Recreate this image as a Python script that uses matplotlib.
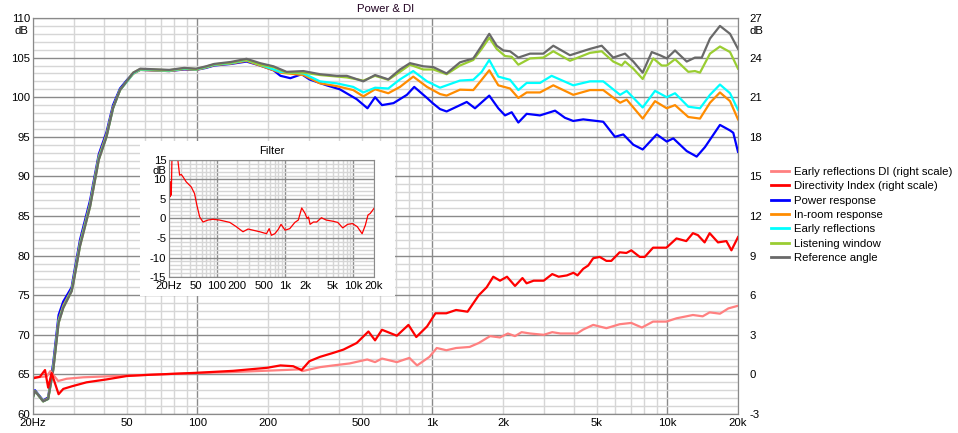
import matplotlib
matplotlib.use("Agg")
import matplotlib.pyplot as plt
from matplotlib.ticker import FixedLocator, NullFormatter
from matplotlib.lines import Line2D

plt.rcParams['font.family'] = ['Liberation Sans', 'DejaVu Sans']
plt.rcParams['axes.unicode_minus'] = False
FS = 8.2

# ---- Daten ----
ref_f = [20, 20.4, 22.1, 23.2, 24.4, 25.7, 26.9, 29.2, 29.7, 31.7, 35, 38.1, 41.1, 43.8, 46.9, 50.3,
         53.4, 57.2, 62.7, 76, 88, 99, 109, 118, 139, 162, 185, 211, 240, 283, 333, 392, 433, 509,
         571, 650, 729, 804, 916, 1010, 1151, 1312, 1495, 1623, 1748, 1880, 2006, 2142, 2324, 2606,
         2969, 3274, 3855, 4690, 5260, 5890, 6610, 7170, 7860, 8590, 9310, 9950, 10790, 12100,
         13120, 14020, 15200, 16760, 18500, 20000]
ref_db = [62.1, 62.9, 61.6, 61.9, 65.6, 71.5, 73.4, 75.5, 76.5, 81.2, 86.2, 92.1, 95.0, 98.6, 100.9, 102.1,
          103.1, 103.6, 103.55, 103.45, 103.7, 103.6, 103.9, 104.2, 104.45, 104.85, 104.3, 103.9, 103.2, 103.3,
          102.9, 102.7, 102.7, 102.0, 102.8, 102.25, 103.5, 104.3, 103.9, 103.8, 103.0, 104.4, 104.9, 106.5,
          108.0, 106.5, 105.9, 105.8, 105.0, 105.5, 105.5, 106.5, 105.3, 106.1, 106.5, 105.0, 105.5, 104.5,
          103.1, 105.7, 105.3, 104.9, 105.9, 104.5, 105.0, 105.0, 107.4, 109.0, 108.0, 106.1]

lw_f = [20, 20.4, 22.1, 23.2, 24.4, 25.7, 26.9, 29.2, 29.7, 31.7, 35, 38.1, 41.1, 43.8, 46.9, 50.3,
        53.4, 57.2, 62.7, 76, 88, 99, 109, 118, 139, 162, 185, 211, 240, 283, 333, 433, 509, 571, 650,
        729, 804, 916, 1010, 1151, 1312, 1495, 1623, 1748, 1880, 2040, 2178, 2324, 2606, 2969, 3274,
        3855, 4690, 5260, 5890, 6400, 6610, 7170, 7860, 8720, 9470, 9950, 10790, 12290, 13120, 13780,
        15200, 16760, 18500, 20000]
lw_db = [62.1, 62.9, 61.6, 61.9, 65.6, 71.5, 73.4, 75.5, 76.5, 81.2, 86.2, 92.1, 95.0, 98.6, 100.9, 102.1,
         103.1, 103.55, 103.5, 103.4, 103.65, 103.55, 103.85, 104.15, 104.35, 104.75, 104.1, 103.8, 103.1,
         103.1, 102.8, 102.5, 102.1, 102.7, 102.2, 103.2, 104.1, 103.5, 103.5, 102.9, 104.0, 104.7, 106.1,
         107.5, 106.1, 105.2, 105.1, 104.1, 104.9, 105.0, 105.8, 104.6, 105.6, 105.8, 104.5, 104.0, 104.5,
         103.6, 102.3, 104.9, 104.0, 104.0, 104.8, 103.2, 103.3, 103.1, 105.5, 106.4, 105.7, 103.6]

er_f = [20, 20.4, 22.1, 23.2, 24.4, 25.7, 26.9, 29.2, 29.7, 31.7, 35, 38.1, 41.1, 43.8, 46.9, 50.3,
        53.4, 57.2, 62.7, 76, 88, 99, 109, 118, 139, 162, 185, 226, 283, 333, 392, 461, 509, 571, 650,
        729, 830, 950, 1079, 1312, 1495, 1623, 1748, 1910, 2142, 2324, 2522, 2874, 3220, 3980, 4690,
        5340, 6300, 6720, 7860, 8870, 9950, 10790, 12290, 13780, 15200, 16760, 18500, 20000]
er_db = [62.1, 62.9, 61.6, 61.9, 65.8, 71.7, 73.5, 75.6, 76.7, 81.4, 86.4, 92.3, 95.1, 98.6, 100.9, 102.0,
         103.0, 103.5, 103.45, 103.35, 103.6, 103.5, 103.8, 104.1, 104.3, 104.7, 104.1, 103.2, 103.0, 102.0,
         101.75, 101.3, 100.6, 101.2, 101.1, 102.25, 103.3, 102.0, 101.2, 102.1, 102.2, 103.2, 104.7, 102.6,
         102.2, 100.9, 101.8, 101.8, 102.7, 101.5, 102.0, 102.0, 100.3, 100.8, 98.7, 100.8, 100.0, 100.5,
         98.8, 98.6, 100.3, 101.6, 100.5, 98.4]

ir_f = [20, 20.4, 22.1, 23.2, 24.4, 25.7, 26.9, 29.2, 29.7, 31.7, 35, 38.1, 41.1, 43.8, 46.9, 50.3,
        53.4, 57.2, 62.7, 76, 88, 99, 109, 118, 139, 162, 185, 226, 283, 333, 392, 461, 509, 571, 650,
        729, 830, 950, 1079, 1151, 1312, 1495, 1623, 1748, 1910, 2142, 2324, 2522, 2874, 3274, 3980,
        4690, 5340, 6300, 6720, 7860, 8870, 9950, 10790, 12290, 13780, 15200, 16760, 18500, 20000]
ir_db = [62.2, 62.9, 61.6, 62.0, 66.0, 71.9, 73.7, 75.7, 76.9, 81.6, 86.6, 92.5, 95.3, 98.7, 100.9, 102.0,
         102.95, 103.45, 103.4, 103.3, 103.55, 103.45, 103.75, 104.05, 104.25, 104.6, 104.0, 103.1, 102.8,
         101.75, 101.4, 100.9, 100.1, 101.0, 100.5, 101.3, 102.6, 101.3, 100.4, 100.2, 100.95, 100.9, 102.2,
         103.4, 101.5, 101.1, 99.9, 100.6, 100.6, 101.5, 100.3, 100.9, 100.9, 99.3, 99.7, 97.3, 99.5, 98.6,
         99.0, 97.5, 97.3, 99.3, 100.6, 99.5, 97.2]

pr_f = [20, 20.4, 22.1, 23.2, 24.4, 25.7, 26.9, 29.2, 29.7, 31.7, 35, 38.1, 41.1, 43.8, 46.9, 50.3,
        53.4, 57.2, 62.7, 76, 88, 99, 109, 118, 139, 162, 185, 211, 226, 249, 278, 300, 355, 404, 477,
        530, 571, 611, 684, 780, 838, 950, 1004, 1079, 1151, 1271, 1402, 1520, 1748, 1910, 2040, 2178,
        2324, 2522, 2874, 3330, 3670, 3980, 4390, 5340, 5990, 6500, 7170, 7860, 9020, 9950, 10610,
        12100, 13340, 14470, 16760, 18500, 19100, 20000]
pr_db = [62.3, 63.0, 61.7, 62.1, 66.5, 72.5, 74.2, 76.0, 77.3, 82.0, 87.0, 92.8, 95.6, 99.0, 101.1, 102.2,
         103.0, 103.45, 103.4, 103.3, 103.5, 103.45, 103.7, 104.0, 104.2, 104.5, 104.0, 103.4, 102.7, 102.4,
         102.9, 102.25, 101.5, 101.0, 99.75, 98.6, 100.0, 99.0, 99.25, 100.3, 101.3, 99.9, 99.25, 98.5, 98.2,
         98.8, 99.4, 98.6, 100.2, 98.6, 97.7, 98.1, 96.8, 97.9, 97.7, 98.3, 97.4, 97.0, 97.2, 96.9, 95.0,
         95.3, 94.0, 93.4, 95.3, 94.4, 94.8, 93.2, 92.5, 93.7, 96.5, 95.8, 95.5, 93.1]

di_f = [20, 21.4, 22.5, 23.2, 24.0, 25.7, 26.9, 29.3, 33.8, 41.1, 50.3, 62.8, 99, 142, 198, 226, 256,
        278, 300, 333, 379, 419, 477, 535, 571, 611, 707, 792, 855, 950, 1032, 1148, 1263, 1413, 1578,
        1704, 1818, 1942, 2080, 2250, 2420, 2520, 2700, 2980, 3240, 3450, 3740, 3990, 4150, 4390, 4610,
        4840, 5160, 5510, 5780, 6270, 6700, 7030, 7640, 8020, 8700, 9920, 10950, 12050, 12860, 13500,
        14420, 15150, 16440, 17850, 18750, 19370, 20000]
di_db = [-0.3, -0.18, 0.33, -1.0, 0.1, -1.5, -1.1, -0.9, -0.6, -0.38, -0.12, -0.03, 0.12, 0.27, 0.5, 0.68,
         0.62, 0.33, 1.0, 1.33, 1.63, 1.88, 2.38, 3.25, 2.58, 3.38, 2.93, 3.75, 2.83, 3.63, 4.63, 4.63, 4.88,
         4.75, 6.0, 6.6, 7.4, 7.1, 7.4, 6.7, 7.3, 6.9, 7.1, 7.1, 7.6, 7.4, 7.5, 7.7, 7.5, 8.0, 8.25, 8.8, 8.9,
         8.6, 8.6, 9.25, 9.2, 9.4, 8.9, 8.9, 9.6, 9.6, 10.3, 10.1, 10.7, 10.55, 10.0, 10.7, 10.0, 10.1, 9.4,
         9.9, 10.4]

erdi_f = [20, 21.4, 22.9, 23.7, 25.6, 27.8, 32.7, 45.3, 73.5, 99, 142, 198, 273, 280, 333, 379, 445, 529,
          571, 611, 707, 799, 862, 973, 1045, 1148, 1263, 1442, 1578, 1762, 1942, 2097, 2250, 2400, 2606,
          2980, 3240, 3508, 4130, 4390, 4840, 5510, 6270, 7030, 7800, 8700, 9920, 10950, 12860, 14150,
          15150, 16760, 18200, 20000]
erdi_db = [-0.2, -0.2, -0.15, 0.25, -0.5, -0.33, -0.22, -0.12, 0.02, 0.1, 0.18, 0.28, 0.38, 0.25, 0.55,
           0.68, 0.83, 1.13, 0.93, 1.2, 0.93, 1.25, 0.68, 1.33, 2.0, 1.83, 2.0, 2.08, 2.38, 2.9, 2.8, 3.1,
           2.9, 3.2, 3.1, 3.0, 3.2, 3.1, 3.1, 3.4, 3.75, 3.5, 3.8, 3.9, 3.55, 4.0, 4.0, 4.25, 4.5, 4.4, 4.7,
           4.6, 5.0, 5.2]

flt_f = [20, 20.4, 20.9, 21.2, 21.6, 22.1, 22.7, 25.0, 26.5, 27.1, 28.6, 30.2, 32, 35.7, 42.3, 47.3, 51.2,
         56.2, 62.8, 74.3, 88, 110, 155, 193, 242, 287, 340, 426, 534, 585, 630, 708, 794, 872, 1000, 1170,
         1390, 1560, 1750, 1960, 2100, 2200, 2320, 2600, 2900, 3400, 4000, 5000, 5900, 6970, 8220, 9670,
         11380, 13400, 14950, 16330, 17640, 20000]
flt_db = [5.6, 9.4, 5.6, 9.4, 6.0, 15.5, 22.0, 25.0, 18.0, 14.6, 11.1, 11.3, 10.7, 9.4, 8.1, 6.4, 3.4, 0.4,
          -0.9, -0.4, -0.2, -0.4, -1.0, -2.1, -3.4, -2.7, -3.0, -3.4, -3.9, -2.6, -4.3, -3.9, -2.8, -1.5,
          -3.0, -2.6, -1.0, -0.4, 2.7, 1.3, 0.0, 0.4, -1.5, -0.9, -0.9, 0.2, -0.4, -0.7, -1.0, -2.4, -1.5,
          -1.3, -2.1, -3.9, -1.7, 0.9, 1.3, 2.6]

xlab_pos = [20, 50, 100, 200, 500, 1000, 2000, 5000, 10000, 20000]
xlab_txt = ["20Hz", "50", "100", "200", "500", "1k", "2k", "5k", "10k", "20k"]
decades = [100, 1000, 10000]
minor_x = [m * d for d in (10, 100, 1000) for m in range(2, 10)] + [20000]

DARK = "#8a8a8a"
LIGHT = "#d6d6d6"

def log_grid(a, ymin, ymax, ystep_major):
    a.set_xscale("log")
    a.set_xlim(20, 20000)
    a.xaxis.set_major_locator(FixedLocator(decades))
    a.xaxis.set_minor_locator(FixedLocator([v for v in minor_x if v not in decades]))
    a.xaxis.set_major_formatter(NullFormatter())
    a.xaxis.set_minor_formatter(NullFormatter())
    a.set_ylim(ymin, ymax)
    a.yaxis.set_major_locator(FixedLocator(list(range(ymin, ymax + 1, ystep_major))))
    a.yaxis.set_minor_locator(FixedLocator(list(range(ymin, ymax + 1))))
    a.grid(True, which="major", color=DARK, linewidth=1.0)
    a.grid(True, which="minor", color=LIGHT, linewidth=1.0)
    a.set_axisbelow(True)
    a.tick_params(which="both", length=0, labelsize=FS, pad=2)
    for s in a.spines.values():
        s.set_color(DARK)
    # Frequenz-Beschriftungen
    for f, t in zip(xlab_pos, xlab_txt):
        a.annotate(t, (f, 0), xycoords=("data", "axes fraction"), xytext=(0, -3),
                   textcoords="offset points", ha="center", va="top", fontsize=FS)

fig = plt.figure(figsize=(9.58, 4.33), dpi=100)
fig.patch.set_facecolor("white")

ax = fig.add_axes([33 / 958, 19 / 433, 705 / 958, 396 / 433])
log_grid(ax, 60, 110, 5)
ax.set_yticklabels([str(v) for v in range(60, 111, 5)])
ax.annotate("dB", (0, 1), xycoords="axes fraction", xytext=(-3, -9), textcoords="offset points",
            ha="right", va="center", fontsize=FS)
ax.set_title("Power & DI", fontsize=FS, color="#200020", pad=4)

ax.plot(pr_f, pr_db, color="#0000ff", lw=1.6, zorder=3)
ax.plot(ir_f, ir_db, color="#ff8c00", lw=1.6, zorder=4)
ax.plot(er_f, er_db, color="#00ffff", lw=1.6, zorder=5)
ax.plot(lw_f, lw_db, color="#9acd32", lw=1.6, zorder=6)
ax.plot(ref_f, ref_db, color="#696969", lw=1.6, zorder=7)

ax2 = ax.twinx()
ax2.set_ylim(-3, 27)
ax2.yaxis.set_major_locator(FixedLocator(list(range(-3, 28, 3))))
ax2.tick_params(length=0, labelsize=FS, pad=8)
for s in ax2.spines.values():
    s.set_color(DARK)
ax2.plot(erdi_f, erdi_db, color="#ff8080", lw=1.6)
ax2.plot(di_f, di_db, color="#ff0000", lw=1.6)
ax2.annotate("dB", (1, 1), xycoords="axes fraction", xytext=(8, -9), textcoords="offset points",
             ha="left", va="center", fontsize=FS)

# Filter-Einsatz
bg = fig.add_axes([140 / 958, 137 / 433, 255 / 958, 155 / 433])
bg.set_facecolor("white")
bg.set_xticks([])
bg.set_yticks([])
for s in bg.spines.values():
    s.set_visible(False)
bg.set_zorder(3)

ins = fig.add_axes([169 / 958, 156 / 433, 205 / 958, 117 / 433])
ins.set_zorder(4)
log_grid(ins, -15, 15, 5)
ins.set_yticklabels([str(v) for v in range(-15, 16, 5)])
ins.plot(flt_f, flt_db, color="#ff0000", lw=0.9)
ins.annotate("dB", (0, 1), xycoords="axes fraction", xytext=(-2, -8), textcoords="offset points",
             ha="right", va="center", fontsize=FS)
ins.set_title("Filter", fontsize=FS, pad=4)

handles = [Line2D([], [], color=c, lw=2) for c in
           ["#ff8080", "#ff0000", "#0000ff", "#ff8c00", "#00ffff", "#9acd32", "#696969"]]
labels = ["Early reflections DI (right scale)", "Directivity Index (right scale)", "Power response",
          "In-room response", "Early reflections", "Listening window", "Reference angle"]
fig.legend(handles, labels, loc="upper left", bbox_to_anchor=(771 / 958, 1 - 167 / 433),
           frameon=False, borderpad=0, borderaxespad=0, handlelength=1.6, handletextpad=0.45,
           labelspacing=0.38, fontsize=FS)

fig.savefig("out.png", dpi=100, facecolor="white")
